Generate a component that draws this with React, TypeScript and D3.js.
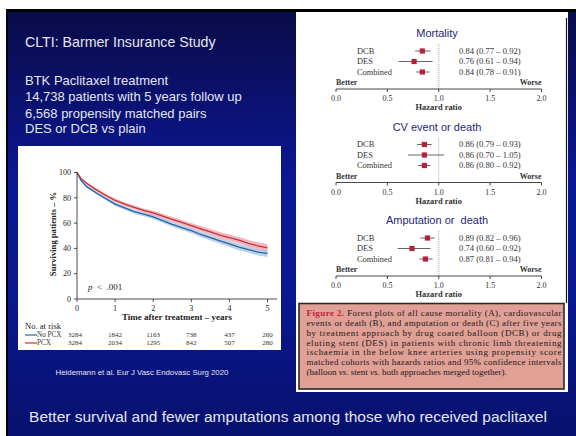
import * as d3 from "d3"

// Kaplan-Meier survival
const kmYears = [0, 0.1, 0.25, 0.5, 0.75, 1, 1.25, 1.5, 1.75, 2, 2.25, 2.5, 2.75, 3, 3.25, 3.5, 3.75, 4, 4.25, 4.5, 4.75, 5]
const noPcxSurv = [100, 94, 89, 84, 79.5, 75, 72, 69, 67, 65, 62, 59, 56.5, 54, 51, 48.5, 46, 43.5, 41, 39, 37, 36]
const pcxSurv = [100, 95.5, 91.5, 86.5, 82, 78, 75, 72.5, 70, 68, 65.5, 63, 60.5, 58, 55.5, 53, 50.5, 48.5, 46.5, 44, 42, 40.5]
const noPcxCi = [0, 0.8, 1, 1.2, 1.3, 1.4, 1.5, 1.6, 1.6, 1.7, 1.8, 1.9, 2, 2.1, 2.2, 2.2, 2.3, 2.4, 2.5, 2.5, 2.6, 2.7]
const pcxCi = [0, 0.8, 1, 1.2, 1.3, 1.4, 1.5, 1.6, 1.6, 1.7, 1.8, 1.9, 2, 2.1, 2.2, 2.3, 2.4, 2.5, 2.6, 2.7, 2.8, 2.9]
const kmTicksY = [0, 20, 40, 60, 80, 100]
const riskYears = [0, 1, 2, 3, 4, 5]
const noPcxRisk = [3284, 1842, 1163, 738, 437, 260]
const pcxRisk = [3284, 2034, 1295, 842, 507, 280]

// Forest plots
const forestTitles = ["Mortality", "CV event or death", "Amputation or  death"]
const forestRows = ["DCB", "DES", "Combined"]
const hrEst = [[0.84, 0.76, 0.84], [0.86, 0.86, 0.86], [0.89, 0.74, 0.87]]
const hrLow = [[0.77, 0.61, 0.78], [0.79, 0.70, 0.80], [0.82, 0.60, 0.81]]
const hrHigh = [[0.92, 0.94, 0.91], [0.93, 1.05, 0.92], [0.96, 0.92, 0.94]]
const hrTicks = [0, 0.5, 1, 1.5, 2]

const introLines = [
  "BTK Paclitaxel treatment",
  "14,738 patients with 5 years follow up",
  "6,568 propensity matched pairs",
  "DES or DCB vs plain",
]

const captionLines = [
  "Forest plots of all cause mortality (A), cardiovascular",
  "events or death (B), and amputation or death (C) after five years",
  "by treatment approach by drug coated balloon (DCB) or drug",
  "eluting stent (DES) in patients with chronic limb threatening",
  "ischaemia in the below knee arteries using propensity score",
  "matched cohorts with hazards ratios and 95% confidence intervals",
]

const sans = "'Liberation Sans', Arial, sans-serif"
const serif = "'Liberation Serif', 'Times New Roman', serif"
const slideText = "#e4e6ef"
const blue = "#2166a6"
const red = "#c9303e"

export default function App() {
  const W = 576
  const H = 436

  // KM scales
  const x = d3.scaleLinear().domain([0, 5]).range([77, 267.5])
  const y = d3.scaleLinear().domain([0, 100]).range([299, 172.5])

  const line = (s: number[]) =>
    d3.line<number>().x((_, i) => x(kmYears[i])).y(d => y(d))(s) || ""
  const band = (s: number[], ci: number[]) =>
    d3.area<number>()
      .x((_, i) => x(kmYears[i]))
      .y0((d, i) => y(d - ci[i]))
      .y1((d, i) => y(d + ci[i]))(s) || ""

  // Forest scale
  const hx = d3.scaleLinear().domain([0, 2]).range([336, 541.5])
  const fmt = d3.format(".2f")
  const introY = [84.5, 100.5, 117.5, 133]

  return (
    <svg width={W} height={H} style={{ position: "absolute", left: 0, top: 0 }}>
      <defs>
        <linearGradient id="bg" x1="0" y1="0" x2="0" y2="1">
          <stop offset="0%" stopColor="#0a0b48" />
          <stop offset="40%" stopColor="#0b1896" />
          <stop offset="65%" stopColor="#0a1890" />
          <stop offset="100%" stopColor="#06106a" />
        </linearGradient>
      </defs>
      <rect width={W} height={H} fill="#ffffff" />
      <rect x={6} y={9} width={W} height={H} fill="#000000" />
      <rect x={8} y={12} width={W} height={H} fill="url(#bg)" />

      {/* slide text */}
      <text x={25} y={46.5} fontFamily={sans} fontSize={14.2} fill={slideText}>CLTI: Barmer Insurance Study</text>
      {introLines.map((t, i) => (
        <text key={t} x={25} y={introY[i]} fontFamily={sans} fontSize={13} fill={slideText}>{t}</text>
      ))}
      <text x={142} y={375} textAnchor="middle" fontFamily={sans} fontSize={7.8} fill={slideText}>
        Heidemann et al. Eur J Vasc Endovasc Surg 2020
      </text>
      <text x={288} y={421.5} textAnchor="middle" fontFamily={sans} fontSize={15.5} fill={slideText}>
        Better survival and fewer amputations among those who received paclitaxel
      </text>

      {/* KM panel */}
      <rect x={18} y={146} width={263} height={204} fill="#ffffff" />
      <path d={band(noPcxSurv, noPcxCi)} fill="#a6c2e2" opacity={0.75} />
      <path d={band(pcxSurv, pcxCi)} fill="#eca0a9" opacity={0.75} />
      <path d={line(noPcxSurv)} fill="none" stroke={blue} strokeWidth={1.3} />
      <path d={line(pcxSurv)} fill="none" stroke={red} strokeWidth={1.3} />
      <line x1={77} x2={77} y1={172} y2={299} stroke="#222" strokeWidth={0.8} />
      <line x1={77} x2={277} y1={299} y2={299} stroke="#222" strokeWidth={0.8} />
      {kmTicksY.map(t => (
        <g key={t}>
          <line x1={74} x2={77} y1={y(t)} y2={y(t)} stroke="#222" strokeWidth={0.8} />
          <text x={71} y={y(t) + 2.7} textAnchor="end" fontFamily={serif} fontSize={8} fill="#222">{t}</text>
        </g>
      ))}
      {riskYears.map(t => (
        <g key={t}>
          <line x1={x(t)} x2={x(t)} y1={299} y2={302} stroke="#222" strokeWidth={0.8} />
          <text x={x(t)} y={310.5} textAnchor="middle" fontFamily={serif} fontSize={8} fill="#222">{t}</text>
        </g>
      ))}
      <text transform="translate(55.5,234) rotate(-90)" textAnchor="middle" fontFamily={serif} fontSize={8.6} fontWeight="bold" fill="#222">
        Surviving patients – %
      </text>
      <text x={177} y={319.5} textAnchor="middle" fontFamily={serif} fontSize={9} fontWeight="bold" fill="#222">
        Time after treatment – years
      </text>
      <text x={88} y={289.5} fontFamily={serif} fontSize={9} fill="#222" style={{ whiteSpace: "pre" }}>
        <tspan fontStyle="italic">p</tspan>{"  <  .001"}
      </text>
      <text x={25} y={328.5} fontFamily={serif} fontSize={8.6} fill="#222">No. at risk</text>
      {[{ lab: "No PCX", c: blue, v: noPcxRisk, yy: 335 }, { lab: "PCX", c: red, v: pcxRisk, yy: 343 }].map(r => (
        <g key={r.lab}>
          <line x1={25} x2={37} y1={r.yy} y2={r.yy} stroke={r.c} strokeWidth={1.2} />
          <text x={37} y={r.yy + 2.4} fontFamily={serif} fontSize={7.2} fill="#333">{r.lab}</text>
          {r.v.map((n, i) => (
            <text key={i} x={x(riskYears[i]) + (i === 0 ? -2 : 0)} y={r.yy + 2.4} textAnchor="middle" fontFamily={serif} fontSize={7} fill="#333">{n}</text>
          ))}
        </g>
      ))}

      {/* forest panel */}
      <rect x={296} y={12} width={272} height={380} fill="#ffffff" />
      <line x1={566.5} x2={566.5} y1={18} y2={303} stroke="#111" strokeWidth={1.2} />
      {forestTitles.map((title, p) => {
        const axisY = 89 + p * 93.5
        const rowY = [axisY - 38, axisY - 27.5, axisY - 17]
        return (
          <g key={title}>
            <text x={437} y={axisY - 52} textAnchor="middle" fontFamily={sans} fontSize={11} fill="#26267a" style={{ whiteSpace: "pre" }}>{title}</text>
            <line x1={hx(1)} x2={hx(1)} y1={axisY - 45} y2={axisY} stroke="#888" strokeWidth={0.7} strokeDasharray="1,1" />
            {forestRows.map((r, i) => (
              <g key={r}>
                <text x={357} y={rowY[i] + 2.8} fontFamily={serif} fontSize={8.4} fill="#333">{r}</text>
                <line x1={hx(hrLow[p][i])} x2={hx(hrHigh[p][i])} y1={rowY[i]} y2={rowY[i]} stroke="#555" strokeWidth={0.9} />
                <rect x={hx(hrEst[p][i]) - 2.6} y={rowY[i] - 2.6} width={5.2} height={5.2} fill="#b7203a" />
                <text x={459} y={rowY[i] + 2.8} fontFamily={serif} fontSize={8.6} fill="#333">
                  {`${fmt(hrEst[p][i])} (${fmt(hrLow[p][i])} – ${fmt(hrHigh[p][i])})`}
                </text>
              </g>
            ))}
            <text x={hx(0)} y={axisY - 4} fontFamily={serif} fontSize={8} fontWeight="bold" fill="#333">Better</text>
            <text x={hx(2)} y={axisY - 4} textAnchor="end" fontFamily={serif} fontSize={8} fontWeight="bold" fill="#333">Worse</text>
            <line x1={hx(0)} x2={hx(2)} y1={axisY} y2={axisY} stroke="#333" strokeWidth={0.9} />
            {hrTicks.map(t => (
              <g key={t}>
                <line x1={hx(t)} x2={hx(t)} y1={axisY} y2={axisY + 3} stroke="#333" strokeWidth={0.9} />
                <text x={hx(t)} y={axisY + 12} textAnchor="middle" fontFamily={serif} fontSize={8} fill="#333">{d3.format(".1f")(t)}</text>
              </g>
            ))}
            <text x={hx(1)} y={axisY + 21} textAnchor="middle" fontFamily={serif} fontSize={8.4} fontWeight="bold" fill="#333">Hazard ratio</text>
          </g>
        )
      })}

      {/* caption */}
      <rect x={299} y={303.5} width={265} height={85.5} fill="#e0a095" stroke="#2a2a2a" strokeWidth={1.6} />
      {captionLines.map((t, i) => (
        <text key={i} x={306.5} y={316 + i * 9.85} textLength={255} lengthAdjust="spacing" fontFamily={serif} fontSize={9} fill="#1a1a1a">
          {i === 0 ? <tspan fill="#c41e3a" fontWeight="bold">Figure 2. </tspan> : null}
          {t}
        </text>
      ))}
      <text x={306.5} y={316 + 6 * 9.85} fontFamily={serif} fontSize={9} fill="#1a1a1a">
        (balloon <tspan fontStyle="italic">vs.</tspan> stent <tspan fontStyle="italic">vs.</tspan> both approaches merged together).
      </text>
    </svg>
  )
}
